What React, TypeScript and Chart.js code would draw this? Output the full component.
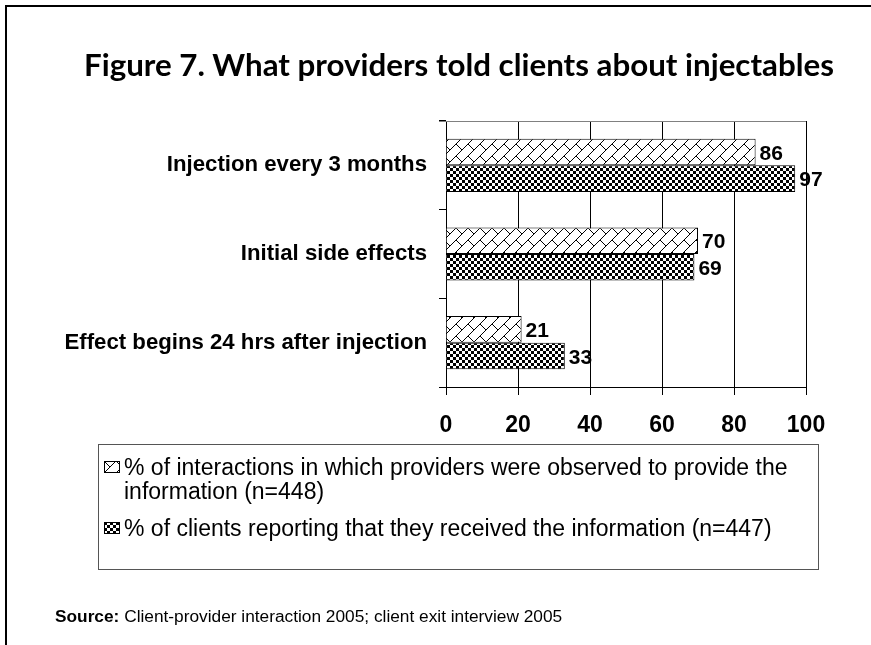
import React, { useEffect, useRef } from "react";
import { Chart, registerables } from "chart.js";

Chart.register(...registerables);

const titleText = "Figure 7. What providers told clients about injectables";
const categories = [
  "Injection every 3 months",
  "Initial side effects",
  "Effect begins 24 hrs after injection",
];
const observedValues = [86, 70, 21];
const reportedValues = [97, 69, 33];
const seriesLabels = [
  "% of interactions in which providers were observed to provide the information (n=448)",
  "% of clients reporting that they received the information (n=447)",
];
const xMin = 0;
const xMax = 100;
const xStep = 20;

const ARIAL = '"Liberation Sans", Arial, Helvetica, sans-serif';

function brickTile(): HTMLCanvasElement {
  const c = document.createElement("canvas");
  c.width = 12;
  c.height = 12;
  const g = c.getContext("2d")!;
  g.fillStyle = "#fff";
  g.fillRect(0, 0, 12, 12);
  g.strokeStyle = "#000";
  g.lineWidth = 1;
  g.beginPath();
  g.moveTo(-6, 18);
  g.lineTo(18, -6);
  g.moveTo(-6, 6);
  g.lineTo(6, -6);
  g.moveTo(6, 18);
  g.lineTo(18, 6);
  g.moveTo(0, 0);
  g.lineTo(6, 6);
  g.moveTo(12, 12);
  g.lineTo(13, 13);
  g.stroke();
  return c;
}

function checkerTile(): HTMLCanvasElement {
  const c = document.createElement("canvas");
  c.width = 6;
  c.height = 6;
  const g = c.getContext("2d")!;
  g.fillStyle = "#fff";
  g.fillRect(0, 0, 6, 6);
  g.fillStyle = "#000";
  g.fillRect(0, 0, 3, 3);
  g.fillRect(3, 3, 3, 3);
  return c;
}

const valueLabels = {
  id: "valueLabels",
  afterDatasetsDraw(chart: any) {
    const ctx = chart.ctx;
    ctx.save();
    ctx.font = `bold 21px ${ARIAL}`;
    ctx.fillStyle = "#000";
    ctx.textAlign = "left";
    ctx.textBaseline = "middle";
    chart.data.datasets.forEach((ds: any, i: number) => {
      chart.getDatasetMeta(i).data.forEach((el: any, j: number) => {
        const p = el.getProps(["x", "y"], true);
        ctx.fillText(String(ds.data[j]), p.x + 4, p.y + 2);
      });
    });
    ctx.restore();
  },
};

const topLine = {
  id: "topLine",
  afterDraw(chart: any) {
    const { ctx, chartArea } = chart;
    ctx.save();
    ctx.strokeStyle = "#808080";
    ctx.lineWidth = 1;
    ctx.beginPath();
    ctx.moveTo(chartArea.left - 7, chartArea.top + 0.5);
    ctx.lineTo(chartArea.right, chartArea.top + 0.5);
    ctx.stroke();
    ctx.restore();
  },
};

function Swatch({ kind }: { kind: "brick" | "checker" }) {
  const ref = useRef<HTMLCanvasElement>(null);
  useEffect(() => {
    const c = ref.current!;
    const g = c.getContext("2d")!;
    const tile = kind === "brick" ? brickTile() : checkerTile();
    g.fillStyle = g.createPattern(tile, "repeat")!;
    g.fillRect(0, 0, c.width, c.height);
    g.strokeStyle = "#000";
    g.lineWidth = 1;
    g.strokeRect(0.5, 0.5, c.width - 1, c.height - 1);
  }, [kind]);
  return (
    <canvas
      ref={ref}
      width={16}
      height={12}
      style={{ position: "absolute", left: 0, top: 6, width: 16, height: 12 }}
    />
  );
}

export default function App() {
  const canvasRef = useRef<HTMLCanvasElement>(null);

  useEffect(() => {
    const canvas = canvasRef.current!;
    const ctx = canvas.getContext("2d")!;
    const brick = ctx.createPattern(brickTile(), "repeat")!;
    const checker = ctx.createPattern(checkerTile(), "repeat")!;
    const padL = 10;
    const chart = new Chart(canvas, {
      type: "bar",
      data: {
        labels: categories,
        datasets: [
          {
            label: seriesLabels[0],
            data: observedValues,
            backgroundColor: brick as any,
            borderColor: "#000",
            borderWidth: 1,
            categoryPercentage: 0.6,
            barPercentage: 1.0,
          },
          {
            label: seriesLabels[1],
            data: reportedValues,
            backgroundColor: checker as any,
            borderColor: "#000",
            borderWidth: 1,
            categoryPercentage: 0.6,
            barPercentage: 1.0,
          },
        ],
      },
      options: {
        indexAxis: "y",
        responsive: false,
        animation: false,
        layout: { padding: { left: padL, right: 65, top: 121, bottom: 198 } },
        plugins: {
          legend: { display: false },
          tooltip: { enabled: false },
          title: { display: false },
        },
        scales: {
          x: {
            min: xMin,
            max: xMax,
            ticks: {
              stepSize: xStep,
              color: "#000",
              font: { family: ARIAL, size: 23, weight: "bold" },
              padding: 17,
            },
            grid: {
              color: "#000",
              lineWidth: 1,
              drawTicks: true,
              tickLength: 8,
            },
            border: { display: true, color: "#000", width: 1 },
            afterFit: (s: any) => {
              s.height = 60;
            },
          },
          y: {
            ticks: {
              color: "#000",
              font: { family: ARIAL, size: 22.2, weight: "bold" },
              padding: 12,
            },
            grid: {
              offset: true,
              drawOnChartArea: false,
              drawTicks: true,
              tickLength: 7,
              color: "#000",
            },
            border: { display: true, color: "#000", width: 1 },
            afterFit: (s: any) => {
              s.width = 446 - padL;
            },
          },
        },
      },
      plugins: [valueLabels, topLine],
    });
    return () => chart.destroy();
  }, []);

  const legendText: React.CSSProperties = {
    position: "absolute",
    left: 20,
    fontFamily: ARIAL,
    fontSize: 23,
    lineHeight: "24px",
    color: "#000",
    whiteSpace: "nowrap",
  };

  return (
    <div
      style={{
        position: "absolute",
        left: 0,
        top: 0,
        width: 871,
        height: 645,
        background: "#fff",
        overflow: "hidden",
      }}
    >
      <canvas
        ref={canvasRef}
        width={871}
        height={645}
        style={{ position: "absolute", left: 0, top: 0, width: 871, height: 645 }}
      />
      <div
        style={{
          position: "absolute",
          left: 5,
          top: 5,
          width: 880,
          height: 660,
          borderLeft: "2px solid #000",
          borderTop: "2px solid #000",
        }}
      />
      <div
        style={{
          position: "absolute",
          left: 59,
          width: 800,
          top: 44,
          textAlign: "center",
          fontFamily: "Lato, sans-serif",
          fontWeight: "bold",
          fontSize: 31.3,
          lineHeight: "40px",
          color: "#000",
          whiteSpace: "nowrap",
        }}
      >
        {titleText}
      </div>
      <div
        style={{
          position: "absolute",
          left: 98,
          top: 444,
          width: 721,
          height: 126,
          border: "1px solid #555",
          boxSizing: "border-box",
        }}
      >
        <div style={{ position: "absolute", left: 5, top: 10, width: 700, height: 50 }}>
          <Swatch kind="brick" />
          <div style={{ ...legendText, top: 0 }}>
            % of interactions in which providers were observed to provide the
            <br />
            information (n=448)
          </div>
        </div>
        <div style={{ position: "absolute", left: 5, top: 71, width: 700, height: 26 }}>
          <Swatch kind="checker" />
          <div style={{ ...legendText, top: 0 }}>{seriesLabels[1]}</div>
        </div>
      </div>
      <div
        style={{
          position: "absolute",
          left: 55,
          top: 606,
          fontFamily: ARIAL,
          fontSize: 17.3,
          color: "#000",
          whiteSpace: "nowrap",
        }}
      >
        <b>Source:</b> Client-provider interaction 2005; client exit interview 2005
      </div>
    </div>
  );
}
